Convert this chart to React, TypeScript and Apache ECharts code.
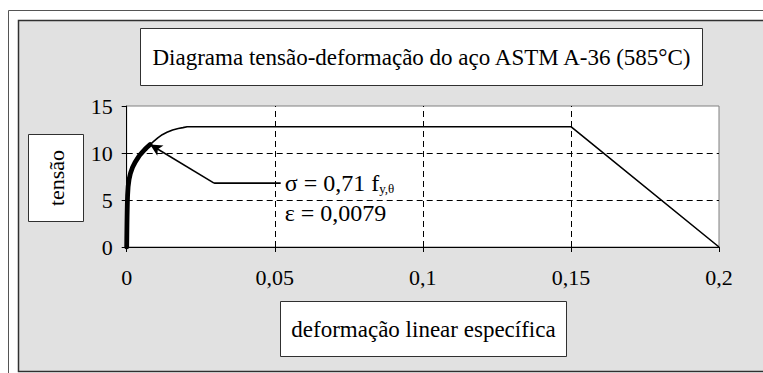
import React, { useEffect, useRef } from "react";
import * as echarts from "echarts";

const chartTitle = "Diagrama tensão-deformação do aço ASTM A-36 (585°C)";
const xAxisTitle = "deformação linear específica";
const yAxisTitle = "tensão";

// elastic / initial part (thick)
const strainInitial = [0, 0.0003, 0.0008, 0.002, 0.004, 0.0062, 0.0079];
const stressInitial = [0, 5.5, 7.2, 8.5, 9.6, 10.4, 10.9];

// remainder of the curve (thin)
const strainRest = [0.0079, 0.009, 0.0105, 0.012, 0.0136, 0.0155, 0.0174, 0.019, 0.0204, 0.15, 0.2];
const stressRest = [10.9, 11.2, 11.6, 11.95, 12.2, 12.45, 12.6, 12.7, 12.8, 12.8, 0];

// annotation leader: arrow tip, knee, end near text
const leaderStrain = [0.0079, 0.0295, 0.052];
const leaderStress = [10.9, 6.8, 6.8];

const xGridValues = [0.05, 0.1, 0.15];
const yGridValues = [5, 10];

const FONT = "Liberation Serif";

export default function App() {
  const ref = useRef<HTMLDivElement>(null);

  useEffect(() => {
    if (!ref.current) return;
    const chart = echarts.init(ref.current, undefined, { renderer: "svg" });

    const option: any = {
      animation: false,
      textStyle: { fontFamily: FONT },
      grid: {
        left: 126.7,
        top: 106,
        width: 592.3,
        height: 141,
        show: true,
        backgroundColor: "#ffffff",
        borderColor: "#808080",
        borderWidth: 1,
      },
      xAxis: {
        type: "value",
        min: 0,
        max: 0.2,
        interval: 0.05,
        axisLine: { show: true, onZero: false, lineStyle: { color: "#000", width: 1 } },
        axisTick: { show: true, inside: false, length: 5, lineStyle: { color: "#000" } },
        axisLabel: {
          color: "#000",
          fontFamily: FONT,
          fontSize: 22,
          margin: 19,
          formatter: (v: number) => String(v).replace(".", ","),
        },
        splitLine: { show: false },
      },
      yAxis: {
        type: "value",
        min: 0,
        max: 15,
        interval: 5,
        axisLine: { show: true, onZero: false, lineStyle: { color: "#000", width: 1 } },
        axisTick: { show: true, inside: false, length: 5, lineStyle: { color: "#000" } },
        axisLabel: { color: "#000", fontFamily: FONT, fontSize: 22, margin: 14 },
        splitLine: { show: false },
      },
      series: [
        {
          type: "line",
          data: [],
          silent: true,
          z: 1,
          markLine: {
            silent: true,
            symbol: ["none", "none"],
            label: { show: false },
            lineStyle: { color: "#000", width: 1, type: [6, 4] },
            data: [
              ...xGridValues.map((v) => ({ xAxis: v })),
              ...yGridValues.map((v) => ({ yAxis: v })),
            ],
          },
        },
        {
          type: "line",
          data: strainRest.map((x, i) => [x, stressRest[i]]),
          showSymbol: false,
          symbol: "none",
          lineStyle: { color: "#000", width: 1.6 },
          z: 3,
        },
        {
          type: "line",
          data: strainInitial.map((x, i) => [x, stressInitial[i]]),
          showSymbol: false,
          symbol: "none",
          smooth: 0.3,
          lineStyle: { color: "#000", width: 4.8, cap: "round", join: "round" },
          z: 4,
        },
        {
          type: "line",
          data: [
            [leaderStrain[1], leaderStress[1]],
            [leaderStrain[2], leaderStress[2]],
          ],
          showSymbol: false,
          symbol: "none",
          lineStyle: { color: "#000", width: 1.6 },
          z: 5,
          markLine: {
            silent: true,
            symbol: ["none", "arrow"],
            symbolSize: [9, 12],
            label: { show: false },
            lineStyle: { color: "#000", width: 1.6, type: "solid" },
            data: [
              [
                { coord: [leaderStrain[1], leaderStress[1]] },
                { coord: [leaderStrain[0], leaderStress[0]] },
              ],
            ],
          },
        },
      ],
    };
    chart.setOption(option);

    const textPos = chart.convertToPixel({ gridIndex: 0 }, [leaderStrain[2], leaderStress[2]]) as number[];

    const txt = (size: number) => ({ fontFamily: FONT, fontSize: size, fill: "#000" });

    chart.setOption({
      graphic: [
        {
          type: "rect",
          z: -10,
          silent: true,
          shape: { x: 8.5, y: 10.5, width: 800, height: 400 },
          style: { fill: "#ffffff", stroke: "#555555", lineWidth: 1 },
        },
        {
          type: "rect",
          z: -9,
          silent: true,
          shape: { x: 18.5, y: 20.5, width: 800, height: 351 },
          style: { fill: "#e1e1e1", stroke: "#303030", lineWidth: 1.5 },
        },
        {
          type: "rect",
          z: 10,
          shape: { x: 140.5, y: 28.5, width: 562, height: 57 },
          style: { fill: "#fff", stroke: "#303030", lineWidth: 1 },
        },
        {
          type: "text",
          z: 11,
          x: 421.5,
          y: 57,
          style: {
            text: chartTitle,
            ...txt(23),
            align: "center",
            verticalAlign: "middle",
          },
        },
        {
          type: "rect",
          z: 10,
          shape: { x: 28.5, y: 134.5, width: 55, height: 87 },
          style: { fill: "#fff", stroke: "#303030", lineWidth: 1 },
        },
        {
          type: "text",
          z: 11,
          x: 56,
          y: 178,
          rotation: Math.PI / 2,
          style: {
            text: yAxisTitle,
            ...txt(22),
            align: "center",
            verticalAlign: "middle",
          },
        },
        {
          type: "rect",
          z: 10,
          shape: { x: 280.5, y: 301.5, width: 286, height: 55 },
          style: { fill: "#fff", stroke: "#303030", lineWidth: 1 },
        },
        {
          type: "text",
          z: 11,
          x: 423.5,
          y: 329,
          style: {
            text: xAxisTitle,
            ...txt(23),
            align: "center",
            verticalAlign: "middle",
          },
        },
        {
          type: "text",
          z: 11,
          x: textPos[0] + 4,
          y: textPos[1],
          style: {
            text: "σ = 0,71 f{sub|y,θ}",
            ...txt(24),
            align: "left",
            verticalAlign: "middle",
            rich: {
              sub: {
                fontFamily: FONT,
                fontSize: 13,
                padding: [11, 0, 0, 0],
                fill: "#000",
              },
            },
          },
        },
        {
          type: "text",
          z: 11,
          x: textPos[0] + 4,
          y: textPos[1] + 30,
          style: {
            text: "ε = 0,0079",
            ...txt(24),
            align: "left",
            verticalAlign: "middle",
          },
        },
      ],
    });

    return () => chart.dispose();
  }, []);

  return (
    <div
      ref={ref}
      style={{ position: "absolute", left: 0, top: 0, width: 763, height: 373 }}
    />
  );
}
